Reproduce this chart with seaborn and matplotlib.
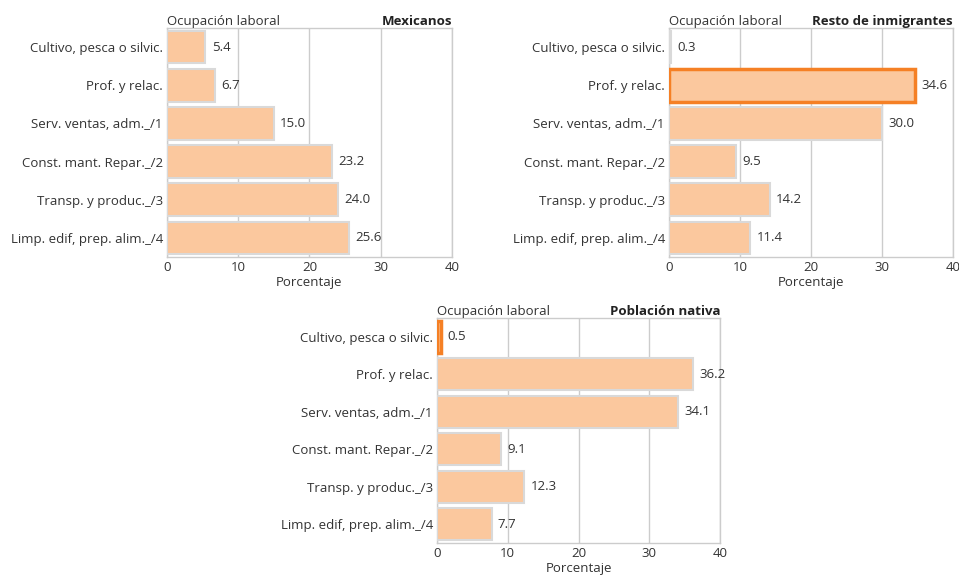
import pandas as pd
import numpy as np
import matplotlib.pyplot as plt
import seaborn as sns

# data
ocupaciones = ["Cultivo, pesca o silvic.", "Prof. y relac.", "Serv. ventas, adm._/1",
               "Const. mant. Repar._/2", "Transp. y produc._/3", "Limp. edif, prep. alim._/4"]
mexicanos = [5.4, 6.7, 15.0, 23.2, 24.0, 25.6]
resto_inmigrantes = [0.3, 34.6, 30.0, 9.5, 14.2, 11.4]
poblacion_nativa = [0.5, 36.2, 34.1, 9.1, 12.3, 7.7]
grupos = ["Mexicanos", "Resto de inmigrantes", "Población nativa"]
resaltado = {"Resto de inmigrantes": "Prof. y relac.", "Población nativa": "Cultivo, pesca o silvic."}

sns.set_style("white")
plt.rcParams['font.family'] = ['Open Sans', 'DejaVu Sans']

fig = plt.figure(figsize=(9.59, 5.76), dpi=100)
ax1 = fig.add_axes([0.1741, 0.5538, 0.2972, 0.3976])
ax2 = fig.add_axes([0.6976, 0.5538, 0.2962, 0.3976])
ax3 = fig.add_axes([0.4557, 0.0573, 0.2952, 0.3906])

fill = "#FBC89E"
edge = "#D9D9D9"
text_c = "#333333"

for ax, nombre, valores in zip([ax1, ax2, ax3], grupos,
                               [mexicanos, resto_inmigrantes, poblacion_nativa]):
    df = pd.DataFrame({"Ocupacion": ocupaciones, "Porcentaje": valores})
    sns.barplot(data=df, x="Porcentaje", y="Ocupacion", orient="h", color=fill,
                saturation=1, width=0.86, edgecolor=edge, linewidth=1.5, ax=ax, zorder=3)
    for patch, ocup in zip(ax.patches, ocupaciones):
        if resaltado.get(nombre) == ocup:
            patch.set_edgecolor("#F58025")
            patch.set_linewidth(2.5)
    for patch, v in zip(ax.patches, valores):
        ax.text(v + 0.9, patch.get_y() + patch.get_height() / 2, f"{v:.1f}",
                va="center", ha="left", fontsize=9.5, color=text_c)
    ax.set_xlim(0, 40)
    ax.set_xticks([0, 10, 20, 30, 40])
    ax.grid(axis="x", color="#CCCCCC", linewidth=1, zorder=0)
    ax.set_axisbelow(True)
    for s in ax.spines.values():
        s.set_color("#CCCCCC")
        s.set_linewidth(1)
    ax.set_ylabel("")
    ax.set_xlabel("Porcentaje", fontsize=9.5, color=text_c, labelpad=1)
    ax.tick_params(axis="both", length=0, labelsize=9.5, colors=text_c, pad=3)
    ax.set_title("Ocupación laboral", loc="left", fontsize=9.5, color=text_c, pad=2)
    ax.set_title(nombre, loc="right", fontsize=9.5, fontweight="bold", color="#222222", pad=2)

fig.savefig("out.png", dpi=100)
